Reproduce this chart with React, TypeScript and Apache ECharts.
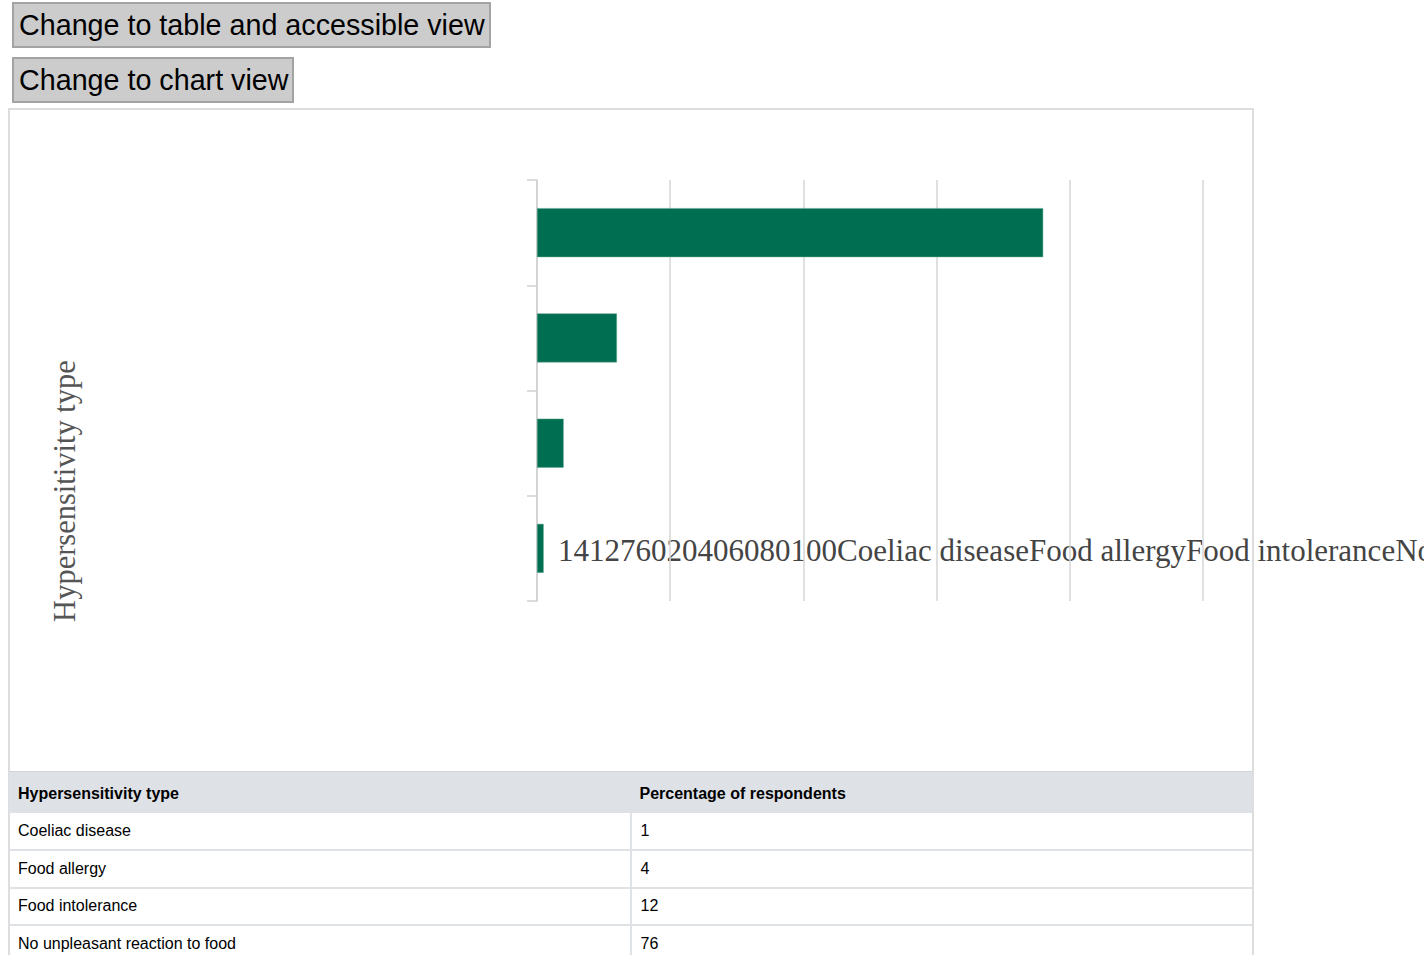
import React, { useEffect, useRef } from "react";
import * as echarts from "echarts";

const categories = [
  "Coeliac disease",
  "Food allergy",
  "Food intolerance",
  "No unpleasant reaction to food",
];
const values = [1, 4, 12, 76];
const xTicks = [0, 20, 40, 60, 80, 100];
const yAxisTitle = "Hypersensitivity type";
const valueTitle = "Percentage of respondents";

const SERIF = "'Liberation Serif', 'Times New Roman', serif";
const SANS = "'Liberation Sans', Arial, sans-serif";

function Chart() {
  const ref = useRef<HTMLDivElement>(null);
  useEffect(() => {
    if (!ref.current) return;
    const chart = echarts.init(ref.current, null, { renderer: "svg" });
    const runOn = values.join("") + xTicks.join("") + categories.join("");
    chart.setOption({
      animation: false,
      grid: { left: 537, right: 221, top: 72, bottom: 170, containLabel: false },
      xAxis: {
        type: "value",
        min: xTicks[0],
        max: xTicks[xTicks.length - 1],
        interval: 20,
        axisLine: { show: false },
        axisTick: { show: false },
        axisLabel: { show: false },
        splitLine: { show: true, lineStyle: { color: "#d6d6d6", width: 1.5 } },
      },
      yAxis: {
        type: "category",
        data: categories,
        axisLine: { show: true, lineStyle: { color: "#d0d0d0", width: 1.5 } },
        axisTick: { show: true, length: 10, lineStyle: { color: "#d0d0d0", width: 1.5 } },
        axisLabel: { show: false },
        splitLine: { show: false },
      },
      series: [
        {
          type: "bar",
          data: values,
          barWidth: 49,
          itemStyle: { color: "#006e51", borderColor: "#5fa48f", borderWidth: 0.5 },
        },
      ],
      graphic: [
        {
          type: "text",
          x: 65,
          y: 383,
          rotation: Math.PI / 2,
          style: {
            text: yAxisTitle,
            fill: "#555",
            font: `30.5px ${SERIF}`,
            textAlign: "center",
            textVerticalAlign: "middle",
          },
        },
        {
          type: "text",
          x: 558,
          y: 442,
          style: {
            text: runOn,
            fill: "#444",
            font: `31px ${SERIF}`,
            textAlign: "left",
            textVerticalAlign: "middle",
          },
        },
      ],
    });
    return () => chart.dispose();
  }, []);
  return (
    <div
      ref={ref}
      style={{ position: "absolute", left: 0, top: 108, width: 1424, height: 663 }}
    />
  );
}

const btn: React.CSSProperties = {
  position: "absolute",
  left: 12,
  height: 46,
  boxSizing: "border-box",
  background: "#cccccc",
  border: "2px solid #a3a3a3",
  fontFamily: SANS,
  fontSize: 28.7,
  color: "#000",
  padding: "0 5px",
  margin: 0,
  lineHeight: "40px",
  whiteSpace: "nowrap",
  textAlign: "left",
};

const cellBase: React.CSSProperties = {
  fontFamily: SANS,
  fontSize: 16,
  color: "#000",
  textAlign: "left",
  padding: "0 0 0 9px",
  boxSizing: "border-box",
};

export default function App() {
  return (
    <div
      style={{
        position: "absolute",
        left: 0,
        top: 0,
        width: 1424,
        height: 955,
        overflow: "hidden",
        background: "#fff",
      }}
    >
      <button style={{ ...btn, top: 2, width: 479 }}>Change to table and accessible view</button>
      <button style={{ ...btn, top: 57, width: 282 }}>Change to chart view</button>
      <div
        style={{
          position: "absolute",
          left: 8,
          top: 108,
          width: 1246,
          height: 900,
          border: "2px solid #dddddd",
          boxSizing: "border-box",
        }}
      />
      <table
        style={{
          position: "absolute",
          left: 9,
          top: 771,
          width: 1243,
          borderCollapse: "collapse",
          tableLayout: "fixed",
        }}
      >
        <thead>
          <tr style={{ height: 41, background: "#dee2e6" }}>
            <th style={{ ...cellBase, fontWeight: "bold", width: "50%", paddingTop: 4, borderTop: "1px solid #d0d4d8" }}>{yAxisTitle}</th>
            <th style={{ ...cellBase, fontWeight: "bold", width: "50%", paddingTop: 4, borderTop: "1px solid #d0d4d8" }}>{valueTitle}</th>
          </tr>
        </thead>
        <tbody>
          {categories.map((c, i) => (
            <tr key={c} style={{ height: 37.5 }}>
              <td style={{ ...cellBase, borderBottom: "2px solid #dee2e6", borderRight: "2px solid #dee2e6" }}>{c}</td>
              <td style={{ ...cellBase, borderBottom: "2px solid #dee2e6" }}>{values[i]}</td>
            </tr>
          ))}
        </tbody>
      </table>
      <Chart />
    </div>
  );
}
